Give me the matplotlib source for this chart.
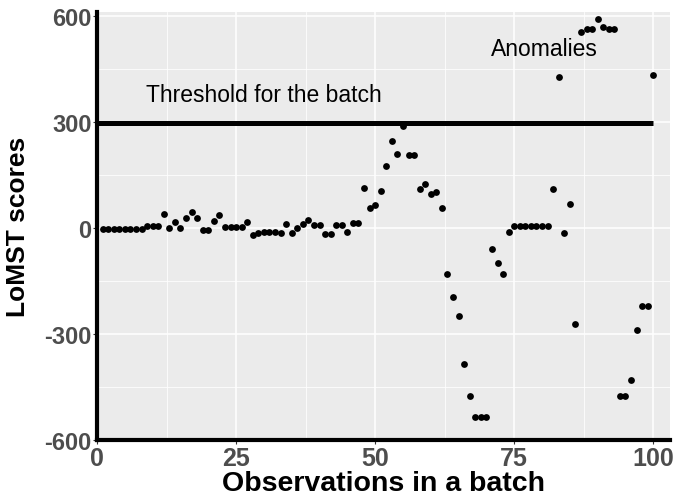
import matplotlib
matplotlib.use("Agg")
import matplotlib.pyplot as plt
from matplotlib.ticker import MultipleLocator

# observation index within the batch
obs = list(range(1, 101))

scores = [
    -3, -3, -3, -3, -3, -3, -3, -3, 5, 5,
    5, 38, -1, 16, 0, 27, 44, 27, -6, -6,
    20, 35, 1, 1, 1, 1, 15, -20, -15, -12,
    -12, -12, -16, 12, -15, -1, 10, 21, 9, 9,
    -17, -17, 7, 7, -12, 13, 13, 112, 56, 63,
    104, 175, 244, 209, 288, 205, 205, 110, 124, 95,
    101, 56, -130, -195, -250, -384, -475, -535, -535, -535,
    -61, -99, -130, -12, 5, 5, 5, 5, 5, 5,
    5, 109, 426, -14, 68, -272, 554, 561, 561, 590,
    568, 561, 561, -477, -477, -430, -290, -220, -220, 432,
]

threshold = 295
threshold_label = "Threshold for the batch"
anomaly_label = "Anomalies"

plt.rcParams['font.family'] = ['Liberation Sans', 'DejaVu Sans']
plt.rcParams['axes.unicode_minus'] = False

fig = plt.figure(figsize=(6.76, 5.02), dpi=100)
ax = fig.add_axes([97 / 676, 61 / 502, 573 / 676, 428 / 502])
ax.set_facecolor('#EBEBEB')

ax.xaxis.set_major_locator(MultipleLocator(25))
ax.xaxis.set_minor_locator(MultipleLocator(12.5))
ax.yaxis.set_major_locator(MultipleLocator(300))
ax.yaxis.set_minor_locator(MultipleLocator(150))
ax.grid(which='major', color='white', linewidth=1.1)
ax.grid(which='minor', color='white', linewidth=0.55)
ax.set_axisbelow(True)

ax.plot([0, 100], [threshold, threshold], color='black', linewidth=3.6,
        solid_capstyle='butt', zorder=2)
ax.scatter(obs, scores, s=24, color='black', zorder=3, linewidths=0)

ax.text(30, 376, threshold_label, fontsize=16.5, ha='center', va='center')
ax.text(80.5, 507, anomaly_label, fontsize=16.5, ha='center', va='center')

ax.set_xlim(0, 103)
ax.set_ylim(-600, 610)

for side in ['top', 'right']:
    ax.spines[side].set_visible(False)
for side in ['left', 'bottom']:
    ax.spines[side].set_linewidth(3)
    ax.spines[side].set_color('black')

ax.tick_params(which='major', length=3, width=0.8, color='#333333',
               labelcolor='#4D4D4D', pad=1)
ax.tick_params(axis='x', labelsize=18)
ax.tick_params(axis='y', labelsize=17)
ax.tick_params(which='minor', length=0)
for lbl in ax.get_xticklabels() + ax.get_yticklabels():
    lbl.set_fontweight('bold')

ax.set_xlabel('Observations in a batch', fontsize=20.5, fontweight='bold', labelpad=0)
ax.set_ylabel('LoMST scores', fontsize=19, fontweight='bold')
ax.yaxis.set_label_coords(-0.117, 0.5)

fig.savefig('out.png', dpi=100)
